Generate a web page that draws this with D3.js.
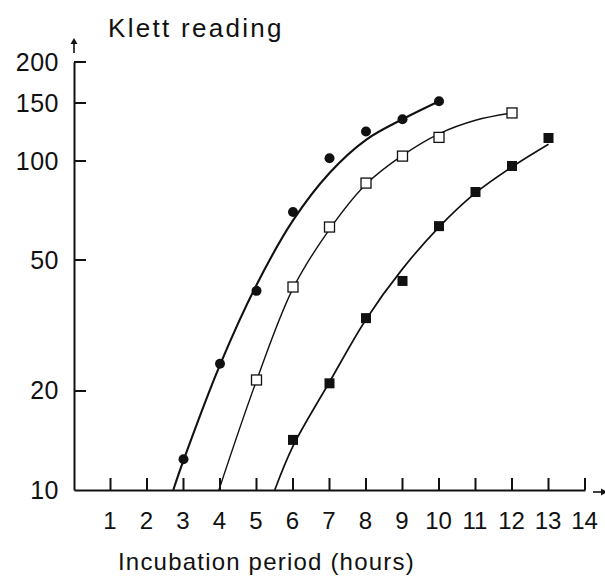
<!DOCTYPE html>
<html>
<head>
<meta charset="utf-8">
<script src="https://cdn.jsdelivr.net/npm/d3@7"></script>
<style>
  body { margin: 0; background: #fff; }
  svg { display: block; }
</style>
</head>
<body>
<div id="chart"></div>
<script>
// measured points (Klett units vs hours)
const circleHours = [3, 4, 5, 6, 7, 8, 9, 10];
const circleKlett = [12.4, 24.2, 40.3, 70, 102, 123, 134, 152];
const openHours = [5, 6, 7, 8, 9, 10, 12];
const openKlett = [21.6, 41.4, 63, 85.7, 103.5, 118, 140];
const squareHours = [6, 7, 8, 9, 10, 11, 12, 13];
const squareKlett = [14.2, 21.1, 33.3, 43.2, 63.4, 80.5, 96.6, 117.5];

// hand-drawn fitted curves
const curveCircleHours = [2.72, 3, 4, 5, 6, 7, 8, 9, 10];
const curveCircleKlett = [10, 12.3, 24, 42, 66, 92, 116, 134, 152];
const curveOpenHours = [3.97, 5, 6, 7, 8, 9, 10, 11, 12];
const curveOpenKlett = [10, 21.5, 41, 62, 85, 104, 121, 133, 140];
const curveSquareHours = [5.5, 6, 7, 8, 9, 10, 11, 12, 13];
const curveSquareKlett = [10, 13.6, 21.3, 33, 47, 63, 80, 96, 112.5];

const xTicks = [1, 2, 3, 4, 5, 6, 7, 8, 9, 10, 11, 12, 13, 14];
const yTicks = [10, 20, 50, 100, 150, 200];

const width = 605;
const height = 576;
const ink = '#111';
const fontFamily = '"Liberation Sans", Arial, Helvetica, sans-serif';
const tickLen = 12;

const svg = d3.select('#chart').append('svg')
  .attr('width', width)
  .attr('height', height);

const x = d3.scaleLinear().domain([0, 14]).range([74, 585]);
const y = d3.scaleLog().domain([10, 200]).range([490, 62]);

// tick marks as one path, stuck to the inside of the axes
const xTickPath = xTicks.map(d => `M${x(d)},${y(10)}V${y(10) - tickLen}`).join('');
const yTickPath = yTicks.filter(d => d > 10).map(d => `M${x(0)},${y(d)}H${x(0) + tickLen}`).join('');

const xAxis = g => g
  .attr('transform', `translate(0,${y(10)})`)
  .call(d3.axisBottom(x).tickValues(xTicks).tickSize(0).tickPadding(22))
  .call(g => g.select('.domain').attr('stroke', ink).attr('stroke-width', 2))
  .call(g => g.selectAll('text')
    .attr('fill', ink)
    .attr('font-size', 24)
    .attr('font-family', fontFamily)
    .attr('dx', -1));

const yAxis = g => g
  .attr('transform', `translate(${x(0)},0)`)
  .call(d3.axisLeft(y).tickValues(yTicks).tickFormat(d3.format('d')).tickSize(0).tickPadding(15))
  .call(g => g.select('.domain').attr('stroke', ink).attr('stroke-width', 2))
  .call(g => g.selectAll('text')
    .attr('fill', ink)
    .attr('font-size', 25)
    .attr('font-family', fontFamily)
    .attr('letter-spacing', 0.5));

svg.append('g').call(xAxis);
svg.append('g').call(yAxis);

svg.append('path')
  .attr('d', xTickPath + yTickPath)
  .attr('fill', 'none')
  .attr('stroke', ink)
  .attr('stroke-width', 2);

// arrows at the axis ends
svg.append('path')
  .attr('d', `M${x(0)},${y(200) - 9}V${y(200) - 20}`)
  .attr('stroke', ink).attr('stroke-width', 1.6);
svg.append('path')
  .attr('d', `M${x(0) - 3.5},${y(200) - 18}L${x(0)},${y(200) - 24}L${x(0) + 3.5},${y(200) - 18}Z`)
  .attr('fill', ink);
svg.append('path')
  .attr('d', `M${x(14) + 8},${y(10) + 2}H${x(14) + 18}`)
  .attr('stroke', ink).attr('stroke-width', 1.6);
svg.append('path')
  .attr('d', `M${x(14) + 16},${y(10) - 1.5}L${x(14) + 22},${y(10) + 2}L${x(14) + 16},${y(10) + 5.5}Z`)
  .attr('fill', ink);

// titles
svg.append('text')
  .attr('x', 108).attr('y', 37)
  .attr('font-size', 26)
  .attr('font-family', fontFamily)
  .attr('letter-spacing', 2.3)
  .attr('fill', ink)
  .text('Klett reading');

svg.append('text')
  .attr('x', 118).attr('y', 570)
  .attr('font-size', 24)
  .attr('font-family', fontFamily)
  .attr('letter-spacing', 1.2)
  .attr('fill', ink)
  .text('Incubation period (hours)');

// fitted curves
const line = d3.line()
  .x(d => x(d[0]))
  .y(d => y(d[1]))
  .curve(d3.curveCatmullRom.alpha(0.5));

const zipPairs = (xs, ys) => xs.map((v, i) => [v, ys[i]]);

const curves = [
  { points: zipPairs(curveCircleHours, curveCircleKlett), stroke: 2.1 },
  { points: zipPairs(curveOpenHours, curveOpenKlett), stroke: 1.4 },
  { points: zipPairs(curveSquareHours, curveSquareKlett), stroke: 1.7 }
];

svg.append('g')
    .attr('fill', 'none')
    .attr('stroke', ink)
  .selectAll('path')
  .data(curves)
  .join('path')
    .attr('stroke-width', d => d.stroke)
    .attr('d', d => line(d.points));

// markers
svg.append('g')
  .selectAll('circle')
  .data(zipPairs(circleHours, circleKlett))
  .join('circle')
    .attr('cx', d => x(d[0]))
    .attr('cy', d => y(d[1]))
    .attr('r', 5)
    .attr('fill', ink);

const sq = 10;
svg.append('g')
  .selectAll('rect')
  .data(zipPairs(openHours, openKlett))
  .join('rect')
    .attr('x', d => x(d[0]) - sq / 2)
    .attr('y', d => y(d[1]) - sq / 2)
    .attr('width', sq)
    .attr('height', sq)
    .attr('fill', '#fff')
    .attr('stroke', ink)
    .attr('stroke-width', 1.3);

svg.append('g')
  .selectAll('rect')
  .data(zipPairs(squareHours, squareKlett))
  .join('rect')
    .attr('x', d => x(d[0]) - sq / 2)
    .attr('y', d => y(d[1]) - sq / 2)
    .attr('width', sq)
    .attr('height', sq)
    .attr('fill', ink);
</script>
</body>
</html>
